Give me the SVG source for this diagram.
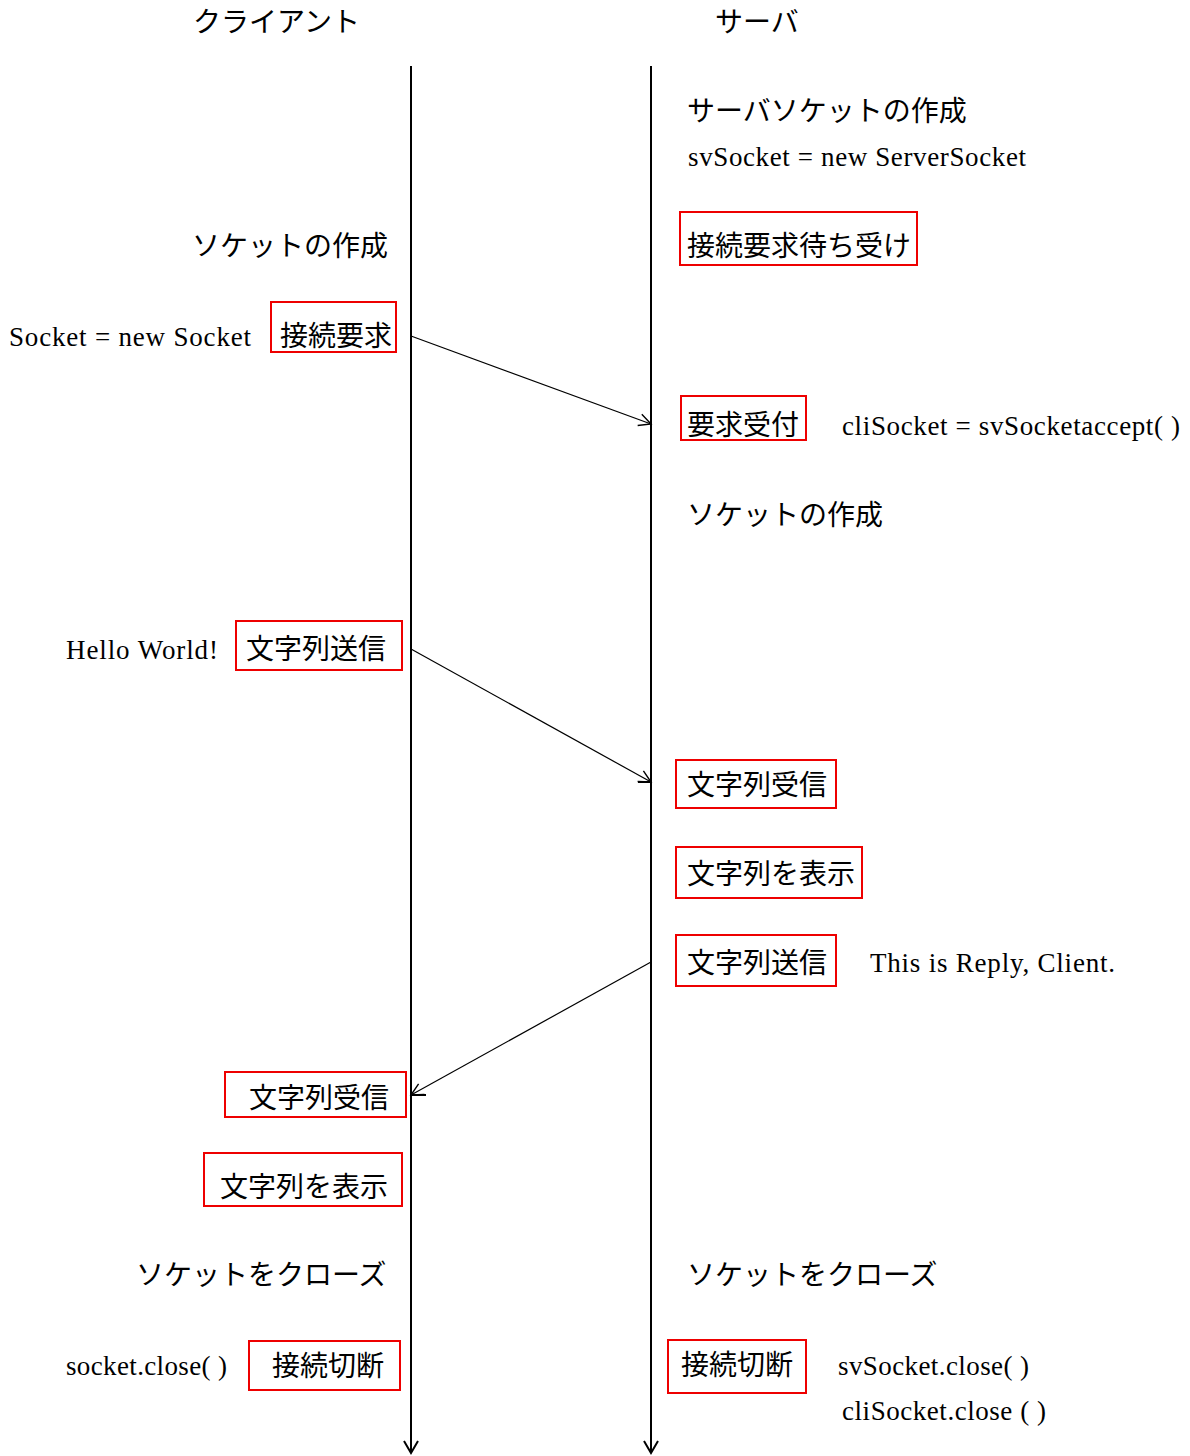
<svg xmlns="http://www.w3.org/2000/svg" width="1190" height="1456" viewBox="0 0 1190 1456">
<style>
.j{font-family:"Noto Sans CJK JP","Noto Sans",sans-serif;font-size:28px;fill:#000}
.s{font-family:"Liberation Serif",serif;font-size:27px;fill:#000}
.b{fill:none;stroke:#e00;stroke-width:2}
.life{stroke:#000;stroke-width:2;fill:none}
.msg{stroke:#000;stroke-width:1.2;fill:none}
</style>
<defs>
<marker id="ah" markerWidth="16" markerHeight="16" refX="14" refY="8" orient="auto" markerUnits="userSpaceOnUse">
<path d="M2,2 L14,8 L2,14" fill="none" stroke="#000" stroke-width="1.4"/>
</marker>
</defs>
<rect width="1190" height="1456" fill="#fff"/>
<g id="headers">
<text class="j" x="193" y="32">クライアント</text>
<text class="j" x="715" y="32">サーバ</text>
</g>
<g id="connectors">
<line class="life" x1="411" y1="66" x2="411" y2="1453"/>
<path class="life" d="M404,1441 L411,1453 L418,1441"/>
<line class="life" x1="651" y1="66" x2="651" y2="1453"/>
<path class="life" d="M644,1441 L651,1453 L658,1441"/>
<line class="msg" x1="411" y1="336" x2="651" y2="424" marker-end="url(#ah)"/>
<line class="msg" x1="411" y1="649" x2="651" y2="782" marker-end="url(#ah)"/>
<line class="life" x1="638" y1="782" x2="651" y2="782"/>
<line class="msg" x1="651" y1="962" x2="411" y2="1095" marker-end="url(#ah)"/>
<line class="life" x1="411" y1="1095" x2="426" y2="1095"/>
</g>
<g id="server-create">
<text class="j" x="687" y="121">サーバソケットの作成</text>
<text class="s" x="688" y="166" textLength="338" lengthAdjust="spacing">svSocket = new ServerSocket</text>
</g>
<g id="server-wait">
<rect class="b" x="680" y="212" width="237" height="53"/>
<text class="j" x="687" y="256">接続要求待ち受け</text>
</g>
<g id="client-create">
<text class="j" x="192" y="256">ソケットの作成</text>
</g>
<g id="client-connect">
<text class="s" x="9" y="346" textLength="242" lengthAdjust="spacing">Socket = new Socket</text>
<rect class="b" x="271" y="302" width="125" height="50"/>
<text class="j" x="280" y="346">接続要求</text>
</g>
<g id="server-accept">
<rect class="b" x="681" y="396" width="125" height="44"/>
<text class="j" x="687" y="435">要求受付</text>
<text class="s" x="842" y="435" textLength="338" lengthAdjust="spacing">cliSocket = svSocketaccept( )</text>
</g>
<g id="server-socket">
<text class="j" x="687" y="525">ソケットの作成</text>
</g>
<g id="client-send">
<text class="s" x="66" y="659" textLength="152" lengthAdjust="spacing">Hello World!</text>
<rect class="b" x="236" y="621" width="166" height="49"/>
<text class="j" x="246" y="659">文字列送信</text>
</g>
<g id="server-recv">
<rect class="b" x="676" y="760" width="160" height="48"/>
<text class="j" x="687" y="795">文字列受信</text>
</g>
<g id="server-show">
<rect class="b" x="676" y="847" width="186" height="51"/>
<text class="j" x="687" y="884">文字列を表示</text>
</g>
<g id="server-send">
<rect class="b" x="676" y="935" width="160" height="51"/>
<text class="j" x="687" y="973">文字列送信</text>
<text class="s" x="870" y="972" textLength="245" lengthAdjust="spacing">This is Reply, Client.</text>
</g>
<g id="client-recv">
<rect class="b" x="225" y="1072" width="181" height="45"/>
<text class="j" x="249" y="1108">文字列受信</text>
</g>
<g id="client-show">
<rect class="b" x="204" y="1153" width="198" height="53"/>
<text class="j" x="220" y="1197">文字列を表示</text>
</g>
<g id="client-close">
<text class="j" x="136" y="1285">ソケットをクローズ</text>
<text class="s" x="66" y="1375" textLength="161" lengthAdjust="spacing">socket.close( )</text>
<rect class="b" x="249" y="1341" width="151" height="49"/>
<text class="j" x="272" y="1376">接続切断</text>
</g>
<g id="server-close">
<text class="j" x="687" y="1285">ソケットをクローズ</text>
<rect class="b" x="668" y="1340" width="138" height="53"/>
<text class="j" x="681" y="1375">接続切断</text>
<text class="s" x="838" y="1375" textLength="191" lengthAdjust="spacing">svSocket.close( )</text>
<text class="s" x="842" y="1420" textLength="204" lengthAdjust="spacing">cliSocket.close ( )</text>
</g>
</svg>
